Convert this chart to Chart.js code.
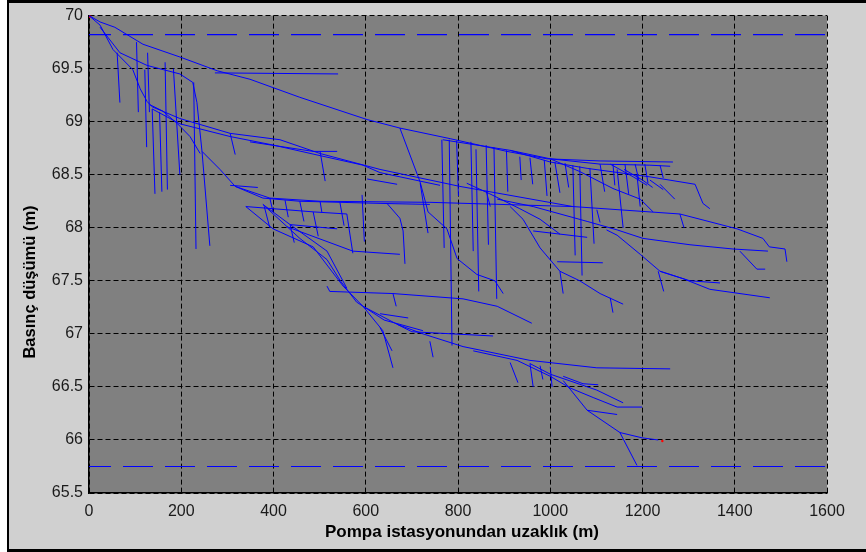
<!DOCTYPE html>
<html><head><meta charset="utf-8">
<script src="https://cdn.jsdelivr.net/npm/chart.js@4/dist/chart.umd.min.js"></script>
<style>
html,body{margin:0;padding:0;background:#fff;width:866px;height:552px;overflow:hidden}
#frame{position:absolute;left:7px;top:0;width:900px;height:552px;box-sizing:border-box;border-top:3px solid #000;border-left:2px solid #000;border-bottom:3px solid #000;background:#d0d0d0}
canvas{position:absolute;left:0;top:0}
</style></head><body>
<div id="frame"></div>
<canvas id="c" width="866" height="552"></canvas>
<script>
// ---- data (distance m, pressure head m) ----
const xTickLabels = ['0','200','400','600','800','1000','1200','1400','1600'];
const yTickLabels = ['65.5','66','66.5','67','67.5','68','68.5','69','69.5','70'];
const xTitle = 'Pompa istasyonundan uzaklık (m)';
const yTitle = 'Basınç düşümü (m)';
const pressureLimits = [69.82, 65.75];
const sourcePoint = [[0,70]];
const criticalPoint = [[1243,65.99]];

const trunkLines = [
 [[0,70],[24,69.94],[56,69.89],[117,69.73],[197,69.61],[278,69.48],[349,69.40],[457,69.23],[603,69.02],[674,68.94],[783,68.84],[906,68.72],[993,68.65],[1108,68.63],[1266,68.62]],
 [[0,70],[24,69.91],[52,69.68],[95,69.49],[111,69.31],[126,69.19],[137,69.14],[197,69.03],[306,68.89],[414,68.83],[501,68.7],[631,68.55],[804,68.39],[1049,68.2],[1281,68.13],[1405,67.99],[1461,67.9],[1475,67.82],[1509,67.8],[1513,67.68]],
 [[24,69.89],[67,69.65],[126,69.53],[197,69.45],[225,69.37],[234,69.18],[245,68.72],[284,68.55],[317,68.39],[392,68.28],[501,68.25],[739,68.24],[1049,68.2]],
 [[137,69.12],[197,68.98],[306,68.86],[399,68.78],[501,68.68],[594,68.59],[631,68.52],[761,68.4]],
 [[273,69.46],[540,69.45]],
 [[132,69.16],[160,69.1],[192,68.98],[219,68.86],[241,68.7]]
];

const upperDrops = [
 [[61,69.65],[67,69.18]],
 [[103,69.75],[107,69.09]],
 [[121,69.49],[125,68.76]],
 [[127,69.65],[131,69.09]],
 [[137,69.12],[143,68.32]],
 [[153,69.09],[158,68.34]],
 [[165,69.56],[170,68.36]],
 [[183,69.5],[197,68.5]],
 [[227,69.37],[232,67.8]],
 [[245,68.72],[262,67.83]],
 [[306,68.89],[317,68.69]],
 [[349,68.81],[486,68.72],[538,68.72]],
 [[501,68.72],[512,68.44]]
];

const centerBranches = [
 [[317,68.39],[377,68.28],[457,68.25],[631,68.23],[739,68.22]],
 [[340,68.2],[486,68.15],[559,68.13]],
 [[436,68.03],[538,67.99]],
 [[429,68.01],[572,67.78],[674,67.75]],
 [[377,68.22],[436,68.03],[516,67.78],[559,67.43]],
 [[306,68.4],[366,68.38]],
 [[603,68.46],[668,68.41]],
 [[592,68.31],[597,67.87]],
 [[486,68.15],[497,67.92]],
 [[559,68.13],[572,67.76]],
 [[646,68.23],[674,68.09],[681,67.97],[685,67.66]],
 [[718,68.42],[735,67.95]],
 [[392,68.28],[399,68.15]],
 [[425,68.26],[432,68.1]],
 [[457,68.25],[466,68.06]],
 [[501,68.25],[505,68.14]],
 [[544,68.24],[553,68.02]],
 [[380,68.2],[392,68.0]],
 [[436,68.03],[445,67.86]],
 [[674,68.94],[718,68.43],[735,68.15],[776,67.99],[798,67.71],[841,67.56],[880,67.5],[898,67.38]]
];

const lowerBranches = [
 [[340,68.2],[399,67.99],[486,67.82],[551,67.45],[594,67.26],[668,67.09],[724,67.0],[811,66.88],[956,66.75],[1101,66.68],[1260,66.67]],
 [[377,68.22],[457,67.9],[516,67.7],[545,67.5],[580,67.3],[640,67.13],[724,67.03]],
 [[516,67.45],[522,67.4],[659,67.38],[811,67.33],[885,67.26],[960,67.1]],
 [[659,67.38],[666,67.26]],
 [[631,67.19],[692,67.15]],
 [[668,67.09],[700,67.02],[876,66.98]],
 [[594,67.26],[637,67.03],[659,66.68]],
 [[631,67.06],[657,66.84]],
 [[739,66.93],[746,66.78]],
 [[913,66.73],[930,66.54]],
 [[956,66.72],[963,66.5]],
 [[978,66.7],[984,66.57]],
 [[1000,66.69],[1004,66.5]],
 [[833,66.84],[928,66.75],[1000,66.6],[1043,66.49],[1093,66.4],[1145,66.31],[1199,66.31]],
 [[1028,66.6],[1071,66.53],[1104,66.52]],
 [[956,66.72],[1000,66.62],[1101,66.47],[1158,66.35]],
 [[1028,66.56],[1080,66.28],[1151,66.07],[1199,66.02],[1234,66.0]],
 [[1151,66.07],[1188,65.76]],
 [[1080,66.28],[1145,66.24]]
];

const rightBranches = [
 [[885,68.27],[963,68.2],[1080,68.06],[1145,67.98],[1201,67.9],[1303,67.84],[1396,67.8],[1472,67.78]],
 [[1411,67.78],[1448,67.61],[1466,67.61]],
 [[1122,67.98],[1145,67.93],[1195,67.75],[1238,67.59],[1288,67.52],[1346,67.42],[1476,67.34]],
 [[1238,67.59],[1303,67.5],[1368,67.48]],
 [[1234,67.59],[1246,67.4]],
 [[913,68.2],[941,68.08],[978,67.81],[1021,67.59],[1064,67.5],[1108,67.38],[1158,67.28]],
 [[1130,67.34],[1136,67.2]],
 [[1021,67.59],[1028,67.38]],
 [[1015,67.68],[1114,67.67]],
 [[963,67.97],[1080,67.91]],
 [[819,68.42],[869,68.32],[934,68.18],[978,68.08],[1021,67.94]]
];

const topCluster = [
 [[767,68.83],[913,68.73],[1000,68.65],[1108,68.6],[1216,68.59],[1260,68.58]],
 [[913,68.73],[1000,68.62],[1080,68.56],[1216,68.48],[1314,68.41],[1331,68.23],[1346,68.18]],
 [[1000,68.65],[1064,68.53],[1136,68.37],[1195,68.27],[1223,68.15]],
 [[1130,68.6],[1180,68.48],[1210,68.4]],
 [[1160,68.55],[1200,68.45],[1222,68.38]],
 [[1216,68.45],[1245,68.36]],
 [[1238,68.41],[1270,68.27]],
 [[934,68.67],[937,68.45]],
 [[956,68.66],[962,68.41]],
 [[987,68.64],[993,68.3]],
 [[1010,68.62],[1021,68.33]],
 [[1032,68.61],[1040,68.38]],
 [[1108,68.6],[1118,68.34]],
 [[1136,68.6],[1140,68.4]],
 [[1162,68.6],[1170,68.32]],
 [[1184,68.6],[1192,68.45]],
 [[1205,68.6],[1212,68.42]],
 [[1238,68.59],[1245,68.47]],
 [[861,68.35],[870,68.2]],
 [[1101,68.17],[1108,68.05]],
 [[1281,68.13],[1290,68.0]]
];

const clusterVerticals = [
 [[765,68.83],[770,67.81]],
 [[781,68.83],[787,66.89]],
 [[797,68.82],[801,68.3]],
 [[828,68.81],[833,67.78]],
 [[839,68.74],[845,67.4]],
 [[861,68.78],[866,67.84]],
 [[878,68.76],[884,67.33]],
 [[905,68.73],[908,68.34]],
 [[1049,68.59],[1054,67.74]],
 [[1064,68.58],[1069,67.55]],
 [[1086,68.56],[1095,67.85]],
 [[1145,68.55],[1158,68.0]],
 [[1188,68.5],[1195,68.2]]
];

// ---- build datasets ----
function toPoints(segs){
  const out=[];
  segs.forEach(s=>{ s.forEach(p=>out.push({x:p[0],y:p[1]})); out.push({x:s[s.length-1][0],y:null}); });
  return out;
}
const pipeStyle = {type:'line',borderColor:'#0000ff',borderWidth:1,pointRadius:0,fill:false,spanGaps:false,tension:0};
const groups = [trunkLines, upperDrops, centerBranches, lowerBranches, rightBranches, topCluster, clusterVerticals];
const datasets = groups.map(g=>Object.assign({data:toPoints(g)}, pipeStyle));
pressureLimits.forEach(v=>datasets.push({type:'line',data:[{x:0,y:v},{x:1600,y:v}],borderColor:'#0000ff',borderWidth:1.2,borderDash:[30,12],borderDashOffset:8,pointRadius:0,fill:false}));
datasets.push({type:'scatter',data:sourcePoint.map(p=>({x:p[0],y:p[1]})),pointRadius:2.5,pointBackgroundColor:'#ff0000',pointBorderWidth:0});
datasets.push({type:'scatter',data:criticalPoint.map(p=>({x:p[0],y:p[1]})),pointRadius:1.2,pointBackgroundColor:'#ff0000',pointBorderWidth:0});

const FONT = '"Liberation Sans", Arial, Helvetica, sans-serif';
const deco = {
  id:'deco',
  beforeDraw(chart){
    const {ctx, chartArea:a} = chart;
    ctx.save(); ctx.fillStyle='#808080';
    ctx.fillRect(a.left,a.top,a.right-a.left,a.bottom-a.top); ctx.restore();
  },
  afterDraw(chart){
    const {ctx, chartArea:a} = chart;
    ctx.save();
    ctx.fillStyle='#000';
    ctx.font='bold 17px '+FONT;
    ctx.textAlign='center'; ctx.textBaseline='alphabetic';
    ctx.fillText(xTitle,(a.left+a.right)/2+4,537);
    ctx.translate(35,282); ctx.rotate(-Math.PI/2);
    ctx.font='bold 16.5px '+FONT;
    ctx.fillText(yTitle,0,0);
    ctx.restore();
  }
};

new Chart(document.getElementById('c'),{
  data:{datasets},
  options:{
    responsive:false, animation:false, events:[],
    layout:{padding:{left:0,top:13,right:39,bottom:0}},
    plugins:{legend:{display:false},tooltip:{enabled:false}},
    scales:{
      x:{type:'linear',min:0,max:1600,
        afterFit(s){s.height=59;},
        ticks:{stepSize:200,color:'#1a1a1a',font:{family:FONT,size:16},padding:9,maxRotation:0,
          callback:(v,i)=>xTickLabels[i]},
        grid:{color:'#000',lineWidth:1,drawTicks:false},
        border:{display:true,color:'#000',width:1.5,dash:[5,3]}
      },
      y:{type:'linear',min:65.5,max:70,
        afterFit(s){s.width=89;},
        ticks:{stepSize:0.5,color:'#1a1a1a',font:{family:FONT,size:16},padding:6,
          callback:(v,i)=>yTickLabels[i]},
        grid:{color:'#000',lineWidth:1,drawTicks:false},
        border:{display:true,color:'#000',width:1.5,dash:[5,3]}
      }
    }
  },
  plugins:[deco]
});
</script></body></html>
